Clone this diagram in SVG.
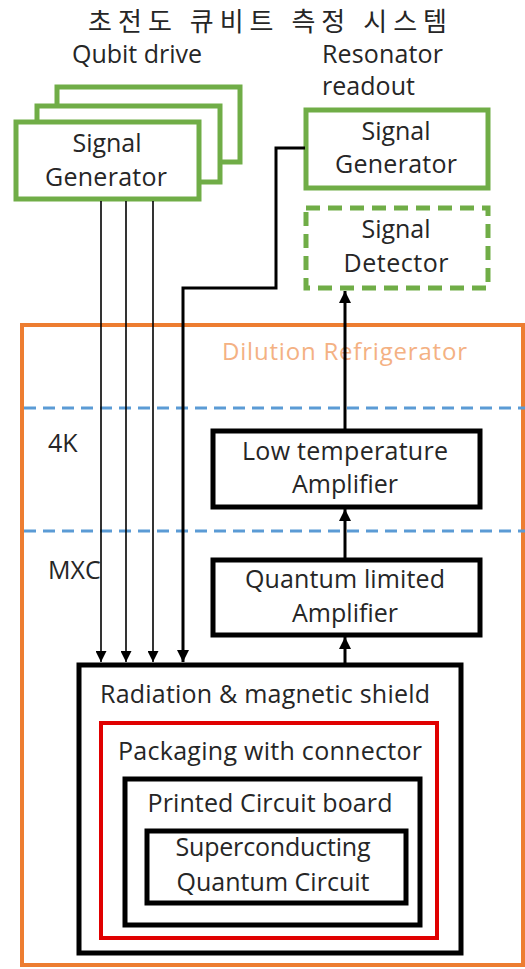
<svg xmlns="http://www.w3.org/2000/svg" width="525" height="969" viewBox="0 0 525 969">
<style>
text{font-family:"Open Sans","Noto Sans",sans-serif;font-size:25px;fill:#262626;text-anchor:middle}
.l{text-anchor:start}
.g{fill:#fff;stroke:#70AD47;stroke-width:5}
.gd{fill:#fff;stroke:#70AD47;stroke-width:5;stroke-dasharray:14 8}
.b{fill:#fff;stroke:#000;stroke-width:5}
.thin{stroke:#000;stroke-width:1.6;fill:none}
.thick{stroke:#000;stroke-width:3;fill:none}
.dash{stroke:#5B9BD5;stroke-width:3;stroke-dasharray:12 7}
</style>
<defs>
<marker id="ah" viewBox="0 0 10 10" refX="10" refY="5" markerWidth="11" markerHeight="11" markerUnits="userSpaceOnUse" orient="auto"><path d="M0,0L10,5L0,10z" fill="#000"/></marker>
<marker id="ah2" viewBox="0 0 10 10" refX="10" refY="5" markerWidth="12" markerHeight="12" markerUnits="userSpaceOnUse" orient="auto"><path d="M0,0L10,5L0,10z" fill="#000"/></marker>
</defs>
<rect width="525" height="969" fill="#fff"/>
<text x="88" y="31" class="l" textLength="359" style="font-family:'Noto Sans CJK KR',sans-serif;font-size:26px">초전도 큐비트 측정 시스템</text>
<text x="72" y="63" class="l" textLength="130">Qubit drive</text>
<text x="322" y="63" class="l" textLength="121">Resonator</text>
<text x="322" y="95" class="l" textLength="93">readout</text>

<g id="refrigerator">
<rect x="22" y="325" width="501" height="640" fill="#fff" stroke="#ED7D31" stroke-width="4"/>
<text x="222" y="360" class="l" textLength="245" style="fill:#F4B183;font-size:24px">Dilution Refrigerator</text>
<line class="dash" x1="24" y1="408" x2="525" y2="408"/>
<line class="dash" x1="24" y1="531" x2="525" y2="531"/>
<text x="48" y="452" class="l">4K</text>
<text x="48" y="579" class="l">MXC</text>
</g>

<g id="qubit-drive">
<rect class="g" x="57" y="87" width="183" height="75"/>
<rect class="g" x="37" y="106" width="183" height="76"/>
<rect class="g" x="16" y="122" width="183" height="77"/>
<text x="107" y="152">Signal</text>
<text x="106" y="186" textLength="122">Generator</text>
</g>

<g id="resonator-generator">
<rect class="g" x="306" y="110" width="182" height="78"/>
<text x="396" y="140">Signal</text>
<text x="396" y="173" textLength="122">Generator</text>
</g>

<g id="signal-detector">
<rect class="gd" x="306" y="208" width="182" height="80"/>
<text x="396" y="238">Signal</text>
<text x="396" y="272" textLength="105">Detector</text>
</g>

<g id="low-temp-amp">
<rect class="b" x="213" y="431" width="267" height="76"/>
<text x="345" y="460" textLength="206">Low temperature</text>
<text x="345" y="493" textLength="106">Amplifier</text>
</g>

<g id="quantum-amp">
<rect class="b" x="213" y="560" width="267" height="75"/>
<text x="345" y="588" textLength="200">Quantum limited</text>
<text x="345" y="622" textLength="106">Amplifier</text>
</g>

<g id="shield">
<rect class="b" x="79" y="665" width="382" height="288"/>
<text x="265" y="703" textLength="330">Radiation &amp; magnetic shield</text>
</g>
<g id="packaging">
<rect x="101" y="723" width="336" height="215" fill="#fff" stroke="#E00000" stroke-width="4"/>
<text x="270" y="760" textLength="304">Packaging with connector</text>
</g>
<g id="pcb">
<rect class="b" x="125" y="779" width="295" height="146"/>
<text x="270" y="812" textLength="245">Printed Circuit board</text>
</g>
<g id="sqc">
<rect class="b" x="147" y="831" width="259" height="72"/>
<text x="273" y="856" textLength="195">Superconducting</text>
<text x="273" y="891" textLength="193">Quantum Circuit</text>
</g>

<g id="connectors">
<line class="thin" x1="101" y1="201" x2="101" y2="662" marker-end="url(#ah)"/>
<line class="thin" x1="126" y1="201" x2="126" y2="662" marker-end="url(#ah)"/>
<line class="thin" x1="153" y1="201" x2="153" y2="662" marker-end="url(#ah)"/>
<polyline class="thick" points="305,148 276,148 276,288 183,288 183,662" marker-end="url(#ah2)"/>
<line class="thick" x1="345" y1="663" x2="345" y2="637" marker-end="url(#ah2)"/>
<line class="thick" x1="345" y1="558" x2="345" y2="509" marker-end="url(#ah2)"/>
<line class="thick" x1="345" y1="429" x2="345" y2="291" marker-end="url(#ah2)"/>
</g>
</svg>
